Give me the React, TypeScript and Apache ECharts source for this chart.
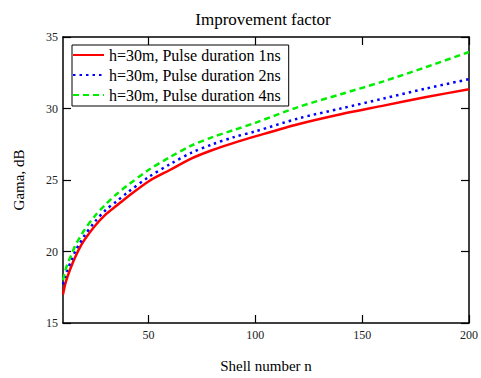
import React, { useEffect, useRef } from "react";
import * as echarts from "echarts";

const shellN = [10, 11, 12, 14, 16, 18, 20, 25, 30, 35, 40, 50, 60, 70, 80, 90, 100, 120, 140, 160, 180, 200];
const gama1ns = [17.0, 17.7, 18.2, 19.0, 19.7, 20.3, 20.8, 21.8, 22.6, 23.2, 23.8, 24.9, 25.7, 26.5, 27.1, 27.6, 28.05, 28.9, 29.6, 30.2, 30.8, 31.35];
const gama2ns = [17.7, 18.2, 18.7, 19.4, 20.1, 20.6, 21.1, 22.1, 22.9, 23.5, 24.1, 25.2, 26.1, 26.9, 27.5, 28.0, 28.4, 29.3, 30.0, 30.7, 31.4, 32.05];
const gama4ns = [18.0, 18.6, 19.1, 19.8, 20.5, 21.0, 21.5, 22.5, 23.3, 24.0, 24.6, 25.7, 26.6, 27.4, 28.0, 28.5, 29.0, 30.1, 31.0, 31.9, 32.9, 33.95];
const seriesNames = ["h=30m, Pulse duration 1ns", "h=30m, Pulse duration 2ns", "h=30m, Pulse duration 4ns"];
const xTicks = [50, 100, 150, 200];
const yTicks = [15, 20, 25, 30, 35];

const FONT = "'Liberation Serif', 'Times New Roman', serif";

export default function App() {
  const ref = useRef<HTMLDivElement>(null);
  useEffect(() => {
    const chart = echarts.init(ref.current!, null, { renderer: "svg" });
    const pair = (ys: number[]) => shellN.map((n, i) => [n, ys[i]]);
    const axisCommon = {
      axisLine: { show: true, lineStyle: { color: "#000", width: 1.5 } },
      axisTick: { show: true, inside: true, length: 8, lineStyle: { color: "#000", width: 1.2 } },
      splitLine: { show: false },
    };
    chart.setOption({
      animation: false,
      backgroundColor: "#fff",
      textStyle: { fontFamily: FONT },
      title: {
        text: "Improvement factor",
        left: 258,
        textAlign: "center",
        top: 6,
        textStyle: { fontFamily: FONT, fontSize: 17, fontWeight: "normal", color: "#000" },
      },
      legend: {
        orient: "vertical",
        left: 72,
        top: 45,
        data: seriesNames,
        backgroundColor: "#fff",
        borderColor: "#000",
        borderWidth: 1,
        borderRadius: 0,
        padding: [2, 8, 3, 0],
        itemWidth: 31,
        itemHeight: 16,
        itemGap: 4,
        itemStyle: { opacity: 0, borderWidth: 0 },
        textStyle: { fontFamily: FONT, fontSize: 16, color: "#000" },
      },
      grid: { left: 63, right: 7, top: 37, bottom: 53 },
      xAxis: [
        {
          type: "value",
          min: 10,
          max: 200,
          name: "Shell number n",
          nameLocation: "middle",
          nameGap: 35,
          nameTextStyle: { fontFamily: FONT, fontSize: 15, color: "#000" },
          ...axisCommon,
          axisTick: { ...axisCommon.axisTick, customValues: xTicks },
          axisLabel: { customValues: xTicks, fontFamily: FONT, fontSize: 12, color: "#222", margin: 6 },
        },
        {
          type: "value",
          position: "top",
          min: 10,
          max: 200,
          ...axisCommon,
          axisTick: { ...axisCommon.axisTick, customValues: xTicks },
          axisLabel: { show: false },
        },
      ],
      yAxis: [
        {
          type: "value",
          min: 15,
          max: 35,
          interval: 5,
          name: "Gama, dB",
          nameLocation: "middle",
          nameGap: 37,
          nameTextStyle: { fontFamily: FONT, fontSize: 15, color: "#000" },
          ...axisCommon,
          axisTick: { ...axisCommon.axisTick, customValues: yTicks },
          axisLabel: { customValues: yTicks, fontFamily: FONT, fontSize: 12, color: "#222", margin: 5 },
        },
        {
          type: "value",
          position: "right",
          min: 15,
          max: 35,
          interval: 5,
          ...axisCommon,
          axisLabel: { show: false },
        },
      ],
      series: [
        {
          name: seriesNames[0],
          type: "line",
          data: pair(gama1ns),
          smooth: 0.3,
          showSymbol: false,
          symbol: "none",
          lineStyle: { color: "#ff0000", width: 2.5, type: "solid" },
          itemStyle: { color: "#ff0000" },
        },
        {
          name: seriesNames[1],
          type: "line",
          data: pair(gama2ns),
          smooth: 0.3,
          showSymbol: false,
          symbol: "none",
          lineStyle: { color: "#0000ff", width: 2.5, type: [2.5, 4] },
          itemStyle: { color: "#0000ff" },
        },
        {
          name: seriesNames[2],
          type: "line",
          data: pair(gama4ns),
          smooth: 0.3,
          showSymbol: false,
          symbol: "none",
          lineStyle: { color: "#00ee00", width: 2.5, type: [6, 4] },
          itemStyle: { color: "#00ee00" },
        },
      ],
    });
    return () => chart.dispose();
  }, []);
  return (
    <div
      ref={ref}
      style={{ position: "fixed", left: 0, top: 0, width: 481, height: 378, background: "#fff" }}
    />
  );
}
